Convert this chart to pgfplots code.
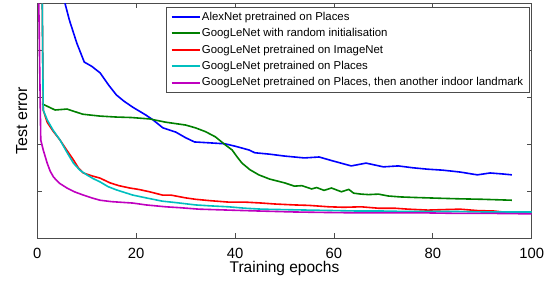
\documentclass[border=0pt]{standalone}
\usepackage{pgfplots}
\pgfplotsset{compat=1.18}
\usepackage{fontspec}
\setmainfont{Liberation Sans}
\definecolor{mgreen}{rgb}{0,0.5,0}
\definecolor{mcyan}{rgb}{0,0.75,0.75}
\definecolor{mmag}{rgb}{0.75,0,0.75}
\definecolor{axgray}{gray}{0.3}
\begin{document}
\begin{tikzpicture}
\begin{axis}[
  at={(0,0)}, anchor=south west,
  scale only axis,
  width=494.4pt, height=235pt,
  xmin=0, xmax=100, ymin=0, ymax=5,
  xtick={0,20,40,60,80,100},
  ytick={1,2,3,4}, yticklabels={},
  tick align=inside,
  major tick length=5pt,
  axis line style={axgray, line width=0.8pt},
  tick style={axgray, line width=0.8pt},
  /pgf/number format/assume math mode=true,
  xticklabel style={font=\fontsize{14.8}{17}\selectfont, anchor=base, yshift=-19.8pt},
  xlabel={Training epochs},
  ylabel={Test error},
  xlabel style={font=\fontsize{15.5}{18}\selectfont, at={(axis description cs:0.5,-0.145)}, anchor=base},
  ylabel style={font=\fontsize{16}{19}\selectfont, at={(axis description cs:-0.0208,0.5)}, anchor=base, rotate=0},
  every axis plot/.append style={line width=1.6pt},
]
\addplot[blue] coordinates {
(5.6,5.0) (6.5,4.64) (8,4.15) (9.5,3.75) (11,3.66) (12.7,3.52) (14.5,3.25) (16,3.05) (17.5,2.92) (19.3,2.79) (22,2.62) (23.4,2.52)
(25.4,2.35) (28,2.26) (30,2.14) (31.8,2.05) (35,2.03) (38,2.01) (40,1.96) (42.8,1.88) (44,1.82) (47,1.79) (50,1.75)
(54,1.71) (57,1.73) (60,1.64) (63.5,1.54) (66.5,1.60) (70,1.52) (73,1.54) (76,1.50) (79,1.47)
(82,1.45) (85.5,1.41) (89,1.35) (91.6,1.39) (94,1.37) (96,1.35)
};
\addplot[mgreen] coordinates {
(1.0,2.86) (2.2,2.80) (3.6,2.73) (6,2.75) (9.2,2.64) (12.7,2.60) (16,2.58) (19,2.57) (22.7,2.54) (26,2.47)
(30,2.41) (32,2.35) (34,2.27) (36,2.16) (38,1.99) (39.4,1.88) (40.5,1.72) (41.4,1.60) (43,1.46) (44.8,1.35) (47,1.26)
(50,1.18) (52,1.11) (53.5,1.12) (55.5,1.05) (56.5,1.08) (58,1.02) (59.5,1.07) (61.5,0.99) (63,1.04)
(64,0.96) (65.5,0.94) (67,0.93) (69,0.94) (71,0.90) (73.5,0.88) (76,0.87) (79,0.86) (82,0.85) (85.5,0.84)
(90,0.83) (96,0.81)
};
\addplot[red] coordinates {
(1.0,5.0) (1.2,2.73) (2,2.47) (3.2,2.28) (4.6,2.09) (6,1.87) (7.3,1.67) (8.3,1.50) (9.3,1.39) (11,1.33) (12.7,1.28) (14.7,1.18) (16.5,1.12)
(18.7,1.07) (20.5,1.04) (22.7,0.99) (25.3,0.92) (27,0.92) (30,0.86) (32,0.83) (35,0.80) (38.7,0.77)
(42,0.77) (45.4,0.75) (48,0.73) (52,0.71) (55,0.70) (59,0.67) (62,0.66) (65.5,0.67) (69,0.64)
(72.3,0.64) (75,0.62) (79,0.60) (82,0.61) (85.5,0.62) (89,0.59) (92.4,0.58) (94.2,0.56)
};
\addplot[mcyan] coordinates {
(1.0,5.0) (1.2,2.73) (2,2.52) (3.2,2.30) (4.6,2.09) (6,1.83) (7.3,1.60) (8.6,1.45) (10,1.35) (11.3,1.27) (12.7,1.20) (14.3,1.10) (16,1.03) (19.3,0.92)
(22,0.86) (25.3,0.79) (28,0.76) (32,0.71) (35,0.69) (38.7,0.67) (42,0.64) (45.4,0.62) (50,0.61) (55,0.60)
(60,0.59) (65,0.58) (70,0.58) (75,0.57) (80,0.57) (85,0.57) (90,0.56) (95,0.56) (100,0.56)
};
\addplot[mmag] coordinates {
(0.3,5.0) (0.7,2.09) (1.2,1.88) (2,1.60) (2.6,1.43) (3.3,1.30) (4.5,1.17) (6,1.07) (7.5,0.99) (9.3,0.92) (11,0.86)
(12.7,0.81) (15,0.78) (19.3,0.75) (22,0.71) (26,0.67) (29,0.65) (32.7,0.62) (38.7,0.60) (45,0.58)
(52,0.56) (58,0.55) (65.5,0.54) (72,0.54) (79,0.54) (85,0.53) (92,0.53) (100,0.52)
};
\end{axis}
% legend
\draw[axgray, line width=0.6pt, fill=white] (129.4pt,145.6pt) rectangle (491.7pt,231pt);
\draw[blue,   line width=2pt] (134.4pt,220.8pt) -- (162.7pt,220.8pt);
\draw[mgreen, line width=2pt] (134.4pt,204.8pt) -- (162.7pt,204.8pt);
\draw[red,    line width=2pt] (134.4pt,187.8pt) -- (162.7pt,187.8pt);
\draw[mcyan,  line width=2pt] (134.4pt,171.8pt) -- (162.7pt,171.8pt);
\draw[mmag,   line width=2pt] (134.4pt,155.8pt) -- (162.7pt,155.8pt);
\begin{scope}[every node/.style={anchor=mid west, inner sep=0pt, font=\fontsize{11.4}{13}\selectfont}]
\node at (164.4pt,220.8pt) {AlexNet pretrained on Places};
\node at (164.4pt,204.8pt) {GoogLeNet with random initialisation};
\node at (164.4pt,187.8pt) {GoogLeNet pretrained on ImageNet};
\node at (164.4pt,171.8pt) {GoogLeNet pretrained on Places};
\node at (164.4pt,155.8pt) {GoogLeNet pretrained on Places, then another indoor landmark};
\end{scope}
\pgfresetboundingbox
\path (-37.3pt,-48.7pt) rectangle (511.7pt,238.3pt);
\end{tikzpicture}
\end{document}
